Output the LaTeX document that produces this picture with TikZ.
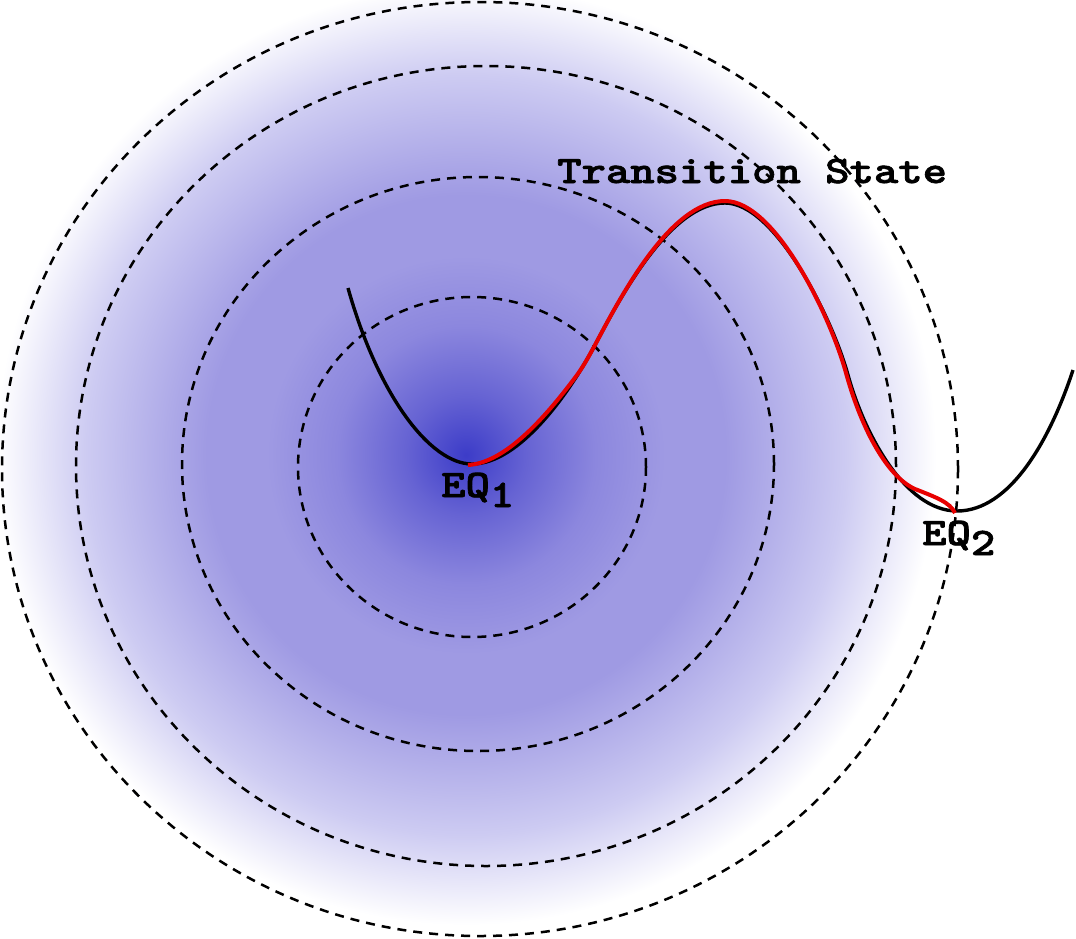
\documentclass[tikz,border=0pt]{standalone}
\usepackage{fontspec}
\newfontfamily\tagfont{lmmonolt10-bold.otf}[FakeBold=1.6]
\usetikzlibrary{positioning}
\definecolor{wellcore}{RGB}{60,60,200}
\definecolor{wellmid}{RGB}{102,99,211}
\definecolor{wellring}{RGB}{140,135,222}
\definecolor{wellflat}{RGB}{159,154,227}
\definecolor{wellrim}{RGB}{205,203,242}
\definecolor{pathred}{RGB}{232,0,0}
\pgfdeclareradialshading{wellshade}{\pgfpoint{0bp}{0bp}}{%
  color(0bp)=(wellcore); color(3.2bp)=(wellmid); color(6.9bp)=(wellring);
  color(10.6bp)=(wellflat); color(13.8bp)=(wellflat); color(20.2bp)=(wellrim);
  color(25bp)=(white); color(50bp)=(white)}
\newcommand{\labelfont}{\tagfont\bfseries\fontsize{39}{46}\selectfont}
\newcommand{\wide}[1]{\scalebox{1.19}[1]{#1}}
\begin{document}
\begin{tikzpicture}[x=1pt,y=-1pt,
    level/.style={draw=black,line width=2.5pt,dash pattern=on 9pt off 7pt},
    surface/.style={draw=black,line width=3.4pt},
    reaction/.style={draw=pathred,line width=4pt},
    tag/.style={inner sep=0pt,anchor=base west,font=\labelfont}]
  \useasboundingbox (0,0) rectangle (1076,938);
  % well
  \shade[shading=wellshade] (466,455) circle [radius=470pt];
  \draw[level] (472,467) ellipse [x radius=174pt, y radius=170pt];
  \draw[level] (478,464) ellipse [x radius=296pt, y radius=287pt];
  \draw[level] (486,466) ellipse [x radius=410pt, y radius=400pt];
  \draw[level] (480,469) ellipse [x radius=478pt, y radius=467pt];
  % energy surface
  \draw[surface] (348,288) .. controls (378,395) and (430,464) .. (472,464)
    .. controls (520,464) and (570,392) .. (595,345)
    .. controls (620,298) and (670,203) .. (725,203)
    .. controls (775,203) and (832,317) .. (848,375)
    .. controls (864,433) and (905,511) .. (957,511)
    .. controls (1010,511) and (1050,440) .. (1073,370);
  % reaction path
  \draw[reaction] (468,465) .. controls (505,463) and (545,418) .. (577,375)
    .. controls (585,364) and (590,354) .. (595,345)
    .. controls (620,298) and (670,201) .. (725,201)
    .. controls (775,201) and (830,315) .. (846,373)
    .. controls (862,431) and (888,477) .. (915,489)
    .. controls (935,497) and (950,502) .. (955,513);
  % labels
  \node[tag] (ts) at (557,183) {\wide{Transition State}};
  \node[tag] (eqone) at (441,497) {\wide{EQ\raisebox{-10pt}{1}}};
  \node[tag] (eqtwo) at (922,545) {\wide{EQ\raisebox{-10pt}{2}}};
\end{tikzpicture}
\end{document}
